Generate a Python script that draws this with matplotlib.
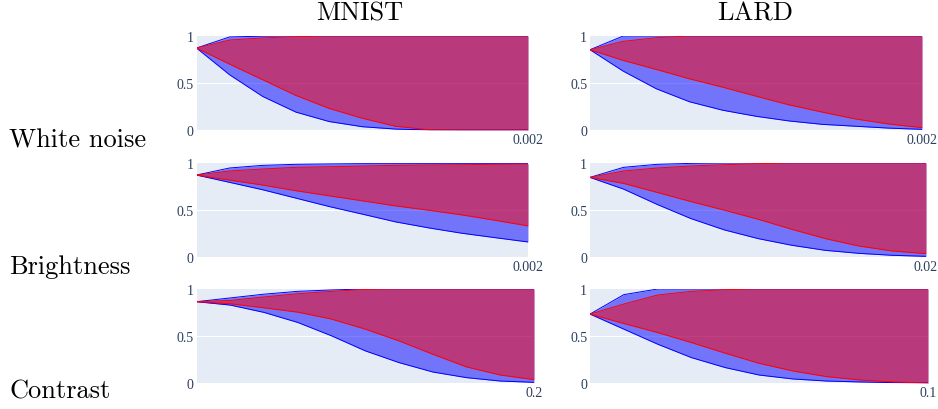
import numpy as np
import matplotlib.pyplot as plt

# perturbation magnitude at the right end of each panel
datasets = ["MNIST", "LARD"]
perturbations = ["White noise", "Brightness", "Contrast"]
eps_max = [[0.002, 0.002], [0.002, 0.02], [0.2, 0.1]]
eps_labels = [["0.002", "0.002"], ["0.002", "0.02"], ["0.2", "0.1"]]

# bounds sampled at 11 evenly spaced perturbation levels (0 .. eps_max)
# white noise
wn_mnist_blue_lo = [0.872, 0.587, 0.356, 0.19, 0.09, 0.035, 0.01, 0.0, 0.0, 0.0, 0.0]
wn_mnist_blue_hi = [0.872, 0.99, 0.998, 1, 1, 1, 1, 1, 1, 1, 1]
wn_mnist_red_lo = [0.872, 0.70, 0.534, 0.367, 0.23, 0.125, 0.04, 0.003, 0.0, 0.0, 0.0]
wn_mnist_red_hi = [0.872, 0.957, 0.98, 0.993, 1, 1, 1, 1, 1, 1, 1]

wn_lard_blue_lo = [0.854, 0.626, 0.438, 0.30, 0.21, 0.146, 0.096, 0.06, 0.04, 0.02, 0.007]
wn_lard_blue_hi = [0.854, 1, 1, 1, 1, 1, 1, 1, 1, 1, 1]
wn_lard_red_lo = [0.854, 0.74, 0.644, 0.544, 0.455, 0.36, 0.267, 0.19, 0.117, 0.064, 0.025]
wn_lard_red_hi = [0.854, 0.943, 0.982, 1, 1, 1, 1, 1, 1, 1, 1]

# brightness
br_mnist_blue_lo = [0.872, 0.794, 0.715, 0.626, 0.537, 0.456, 0.374, 0.31, 0.253, 0.206, 0.16]
br_mnist_blue_hi = [0.872, 0.947, 0.975, 0.986, 0.99, 0.993, 0.993, 0.993, 0.993, 0.993, 0.993]
br_mnist_red_lo = [0.872, 0.818, 0.765, 0.705, 0.651, 0.598, 0.544, 0.498, 0.448, 0.391, 0.331]
br_mnist_red_hi = [0.872, 0.915, 0.936, 0.954, 0.96, 0.968, 0.975, 0.979, 0.982, 0.986, 0.989]

br_lard_blue_lo = [0.847, 0.722, 0.559, 0.409, 0.288, 0.196, 0.125, 0.071, 0.039, 0.018, 0.007]
br_lard_blue_hi = [0.847, 0.954, 0.986, 0.996, 1, 1, 1, 1, 1, 1, 1]
br_lard_red_lo = [0.847, 0.783, 0.687, 0.59, 0.498, 0.402, 0.295, 0.196, 0.117, 0.064, 0.036]
br_lard_red_hi = [0.847, 0.915, 0.947, 0.968, 0.982, 0.993, 1, 1, 1, 1, 1]

# contrast
ct_mnist_blue_lo = [0.865, 0.829, 0.751, 0.644, 0.502, 0.342, 0.217, 0.117, 0.057, 0.021, 0.007]
ct_mnist_blue_hi = [0.865, 0.905, 0.945, 0.975, 0.99, 1, 1, 1, 1, 1, 1]
ct_mnist_red_lo = [0.865, 0.843, 0.80, 0.754, 0.68, 0.573, 0.448, 0.306, 0.171, 0.085, 0.036]
ct_mnist_red_hi = [0.865, 0.879, 0.915, 0.95, 0.975, 0.996, 1, 1, 1, 1, 1]

ct_lard_blue_lo = [0.733, 0.573, 0.413, 0.27, 0.164, 0.085, 0.043, 0.021, 0.011, 0.004, 0.0]
ct_lard_blue_hi = [0.733, 0.94, 1, 1, 1, 1, 1, 1, 1, 1, 1]
ct_lard_red_lo = [0.733, 0.633, 0.537, 0.43, 0.317, 0.21, 0.128, 0.068, 0.032, 0.011, 0.0]
ct_lard_red_hi = [0.733, 0.84, 0.936, 0.975, 0.993, 1, 1, 1, 1, 1, 1]

bounds = [
    [(wn_mnist_blue_lo, wn_mnist_blue_hi, wn_mnist_red_lo, wn_mnist_red_hi),
     (wn_lard_blue_lo, wn_lard_blue_hi, wn_lard_red_lo, wn_lard_red_hi)],
    [(br_mnist_blue_lo, br_mnist_blue_hi, br_mnist_red_lo, br_mnist_red_hi),
     (br_lard_blue_lo, br_lard_blue_hi, br_lard_red_lo, br_lard_red_hi)],
    [(ct_mnist_blue_lo, ct_mnist_blue_hi, ct_mnist_red_lo, ct_mnist_red_hi),
     (ct_lard_blue_lo, ct_lard_blue_hi, ct_lard_red_lo, ct_lard_red_hi)],
]

W, H = 938, 410
# panel boxes in pixels: left, top, right, bottom
boxes = [
    [(196.5, 37, 528, 131), (590, 37, 922, 131)],
    [(196.5, 164, 528, 258), (590, 164, 926, 258)],
    [(196.5, 290, 534, 384), (590, 290, 928, 384)],
]

TICK_COLOR = "#2a3f5f"
BG = "#e5ecf6"


def panel(fig, box, data, xmax, xlabel):
    l, t, r, b = box
    ax = fig.add_axes([l / W, 1 - b / H, (r - l) / W, (b - t) / H])
    blue_lo, blue_hi, red_lo, red_hi = data
    x = np.linspace(0, xmax, len(blue_lo))
    ax.set_facecolor(BG)
    ax.fill_between(x, blue_lo, blue_hi, color=(0, 0, 1, 0.5), lw=0)
    ax.plot(x, blue_lo, color="blue", lw=0.7)
    ax.plot(x, blue_hi, color="blue", lw=0.7)
    ax.fill_between(x, red_lo, red_hi, color=(1, 0, 0, 0.5), lw=0)
    ax.plot(x, red_lo, color="red", lw=0.7)
    ax.plot(x, red_hi, color="red", lw=0.7)
    ax.axhline(0.5, color="white", lw=0.8, zorder=0.5)
    ax.set_xlim(0, xmax)
    ax.set_ylim(0, 1)
    ax.set_yticks([0, 0.5, 1])
    ax.set_yticklabels(["0", "0.5", "1"])
    ax.set_xticks([xmax])
    ax.set_xticklabels([xlabel])
    ax.tick_params(length=0, pad=2, labelsize=10, labelcolor=TICK_COLOR)
    for lab in ax.get_xticklabels() + ax.get_yticklabels():
        lab.set_fontfamily("Liberation Serif")
    for s in ax.spines.values():
        s.set_visible(False)
    return ax


fig = plt.figure(figsize=(W / 100, H / 100), dpi=100)

for i in range(3):
    for j in range(2):
        panel(fig, boxes[i][j], bounds[i][j], eps_max[i][j], eps_labels[i][j])

title_x = [360, 755]
for j, name in enumerate(datasets):
    fig.text(title_x[j] / W, 1 - 20.5 / H, name, fontfamily="cmr10", fontsize=19,
             ha="center", va="baseline")

label_y = [148, 274, 399]
for i, name in enumerate(perturbations):
    fig.text(9 / W, 1 - label_y[i] / H, name, fontfamily="cmr10", fontsize=19,
             ha="left", va="baseline")

fig.savefig("out.png", dpi=100)
